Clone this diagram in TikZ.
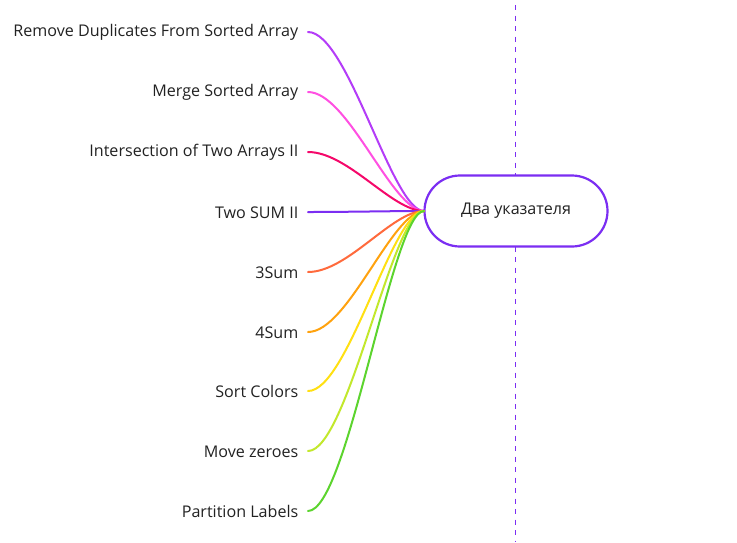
\documentclass[tikz,border=0pt]{standalone}
\usepackage{fontspec}
\setmainfont{Open Sans}
\usetikzlibrary{shapes.misc}
\definecolor{cA}{HTML}{B43CF8}
\definecolor{cB}{HTML}{FF50E2}
\definecolor{cC}{HTML}{F5086A}
\definecolor{cD}{HTML}{7B2EF2}
\definecolor{cE}{HTML}{FF6A3C}
\definecolor{cF}{HTML}{FFA20E}
\definecolor{cG}{HTML}{FFE012}
\definecolor{cH}{HTML}{C2E82C}
\definecolor{cI}{HTML}{5CD42E}
\definecolor{txt}{HTML}{222222}
\tikzset{
  leaf/.style={anchor=east, inner sep=0pt, text=txt, font=\fontsize{16.1}{19}\selectfont},
  conn/.style={line width=2pt, line cap=round},
  centerbox/.style={rounded rectangle, draw=cD, line width=2.2pt, minimum width=183pt, minimum height=71pt, text=txt, font=\fontsize{16.1}{19}\selectfont, inner sep=0pt},
}
\begin{document}
\begin{tikzpicture}[x=1pt,y=-1pt]
\useasboundingbox (0,0) rectangle (737,542);
\fill[white] (0,0) rectangle (737,542);
\coordinate (dtop) at (515.5,5);
\coordinate (dbot) at (515.5,542);
\draw[cD, line width=1.4pt, dash pattern=on 5pt off 5.5pt] (dtop) -- (dbot);
\node[centerbox, fill=white] (c) at (516,211) {Два указателя};
\coordinate (j) at (424,211);
\foreach \n/\t/\y/\col in {a/Remove Duplicates From Sorted Array/32/cA, b/Merge Sorted Array/92/cB, c3/Intersection of Two Arrays II/152/cC, d/Two SUM II/212/cD, e/3Sum/272/cE, f/4Sum/332/cF, g/Sort Colors/391/cG, h/Move zeroes/451/cH, i/Partition Labels/511/cI} {
  \node[leaf] (\n) at (298.5,\y+0.5) {\t};
  \coordinate (\n s) at (308,\y);
  \draw[conn, \col] (\n s) .. controls ([xshift=40pt]\n s) and ([xshift=-32pt]j) .. (j);
}
\end{tikzpicture}
\end{document}
